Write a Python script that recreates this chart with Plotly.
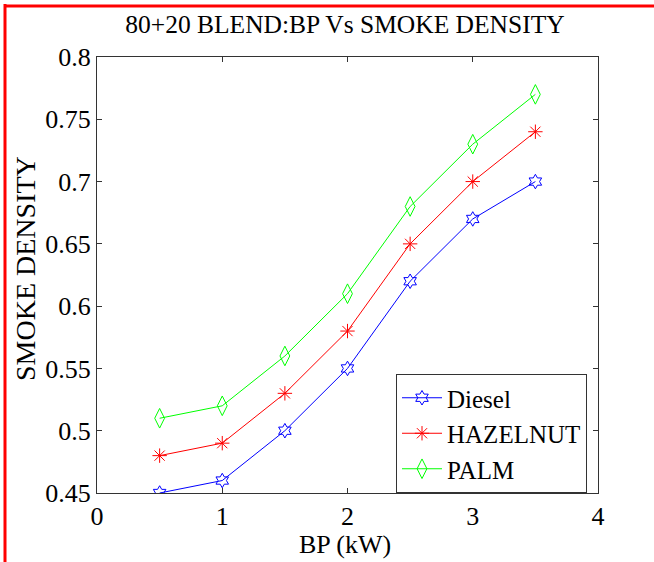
import plotly.graph_objects as go

bp = [0.5, 1.0, 1.5, 2.0, 2.5, 3.0, 3.5]
diesel = [0.45, 0.46, 0.50, 0.55, 0.62, 0.67, 0.70]
hazelnut = [0.48, 0.49, 0.53, 0.58, 0.65, 0.70, 0.74]
palm = [0.51, 0.52, 0.56, 0.61, 0.68, 0.73, 0.77]

x_ticks = [0, 1, 2, 3, 4]
y_ticks = [0.45, 0.5, 0.55, 0.6, 0.65, 0.7, 0.75, 0.8]
y_labels = ["0.45", "0.5", "0.55", "0.6", "0.65", "0.7", "0.75", "0.8"]

FONT = "Liberation Serif"

fig = go.Figure()
series = [
    ("Diesel", diesel, "#0000ff", "hexagram-open", 11),
    ("HAZELNUT", hazelnut, "#ff0000", "asterisk-open", 12),
    ("PALM", palm, "#00ff00", "diamond-tall-open", 14),
]
for name, vals, col, sym, sz in series:
    fig.add_trace(go.Scatter(
        x=bp, y=vals, name=name, mode="lines+markers",
        line=dict(color=col, width=1),
        marker=dict(symbol=sym, size=sz, color=col, line=dict(color=col, width=1)),
    ))

L, R, T, B = 97, 56, 57, 69
W, H = 654, 562
pw, ph = W - L - R, H - T - B

def px(xp):
    return (xp - L) / pw

def py(yp):
    return (H - B - yp) / ph

axis_common = dict(
    showgrid=False, zeroline=False, showline=True, linecolor="#333333", linewidth=1,
    mirror="ticks", ticks="inside", ticklen=5, tickcolor="#333333",
    tickfont=dict(family=FONT, size=26, color="#000000"),
)

fig.update_layout(
    width=W, height=H,
    margin=dict(l=L, r=R, t=T, b=B, autoexpand=False),
    paper_bgcolor="white", plot_bgcolor="white",
    title=dict(text="80+20 BLEND:BP Vs SMOKE DENSITY", xref="paper", x=px(345), xanchor="center",
               yref="container", y=1 - 24 / H, yanchor="middle",
               font=dict(family=FONT, size=25.5, color="#000000")),
    xaxis=dict(range=[0, 4], tickvals=x_ticks, ticktext=[str(v) for v in x_ticks],
               **axis_common),
    yaxis=dict(range=[0.45, 0.8], tickvals=y_ticks, ticktext=y_labels,
               **axis_common),
    legend=dict(x=px(396), y=py(374), xanchor="left", yanchor="top",
                bgcolor="white", bordercolor="#333333", borderwidth=1,
                font=dict(family=FONT, size=25, color="#000000"),
                itemwidth=40, tracegroupgap=0),
    showlegend=True,
)

fig.add_annotation(text="BP (kW)", xref="paper", yref="paper", x=px(345), y=py(544),
                   xanchor="center", yanchor="middle", showarrow=False,
                   font=dict(family=FONT, size=26, color="#000000"))
fig.add_annotation(text="SMOKE DENSITY", xref="paper", yref="paper", x=px(25), y=py(269),
                   xanchor="center", yanchor="middle", showarrow=False, textangle=-90,
                   font=dict(family=FONT, size=28, color="#000000"))

fig.add_shape(type="line", xref="paper", yref="paper",
              x0=px(5), x1=px(5), y0=py(4), y1=py(H + 5),
              line=dict(color="#ff0000", width=3))
fig.add_shape(type="line", xref="paper", yref="paper",
              x0=px(4), x1=px(W + 5), y0=py(6), y1=py(6),
              line=dict(color="#ff0000", width=3))

fig.write_html("out.html", config={"displayModeBar": False},
               post_script="document.body.style.margin='0';document.body.style.padding='0';")
